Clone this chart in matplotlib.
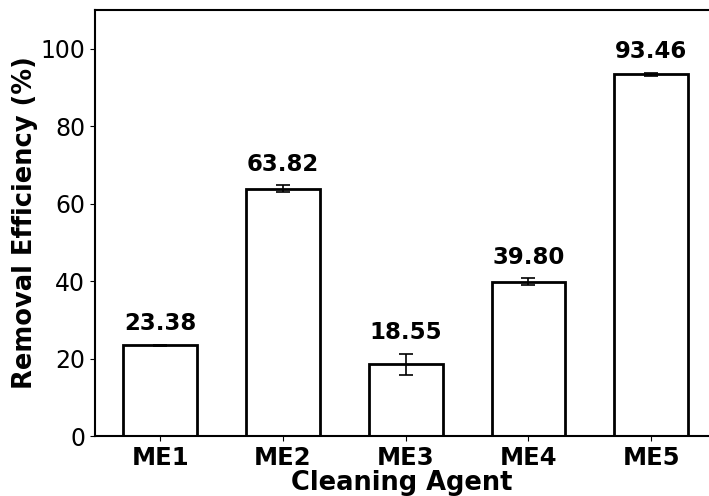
import matplotlib
matplotlib.use("Agg")
import matplotlib.pyplot as plt
import numpy as np

agents = ["ME1", "ME2", "ME3", "ME4", "ME5"]
efficiency = [23.38, 63.82, 18.55, 39.80, 93.46]
errors = [0.2, 0.9, 2.7, 0.9, 0.4]

fig = plt.figure(figsize=(7.09, 4.96), dpi=100)
ax = fig.add_axes([95/709, 1-436/496, 614/709, 426/496])

x = np.arange(len(agents))
ax.bar(x, efficiency, width=0.6, color="white", edgecolor="black", linewidth=2,
       yerr=errors, capsize=5, error_kw=dict(ecolor="black", elinewidth=1.2, capthick=1.2))
for xi, v, e in zip(x, efficiency, errors):
    ax.text(xi, v + e + 2.5, f"{v:.2f}", ha="center", va="bottom", fontsize=16.5, fontweight="bold")

ax.set_xticks(x)
ax.set_xticklabels(agents, fontsize=17.5, fontweight="bold")
ax.tick_params(axis="y", labelsize=17)
ax.set_ylim(0, 110)
ax.set_xlim(-0.53, 4.47)
ax.set_yticks([0, 20, 40, 60, 80, 100])
ax.set_xlabel("Cleaning Agent", fontsize=18.5, fontweight="bold", labelpad=0)
ax.set_ylabel("Removal Efficiency (%)", fontsize=18.5, fontweight="bold", labelpad=2)
for s in ax.spines.values():
    s.set_linewidth(1.5)
ax.spines["right"].set_visible(False)

fig.savefig("out.png", dpi=100)
